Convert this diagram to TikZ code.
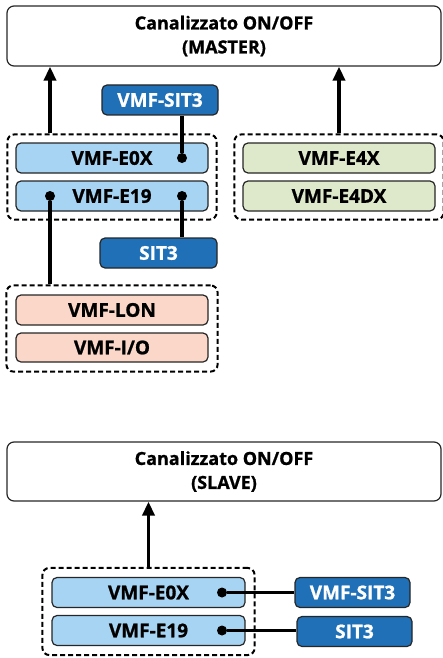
\documentclass[tikz,border=0pt]{standalone}
\usepackage{fontspec}
\setmainfont{Open Sans}[BoldFeatures={FakeBold=1}]
\usetikzlibrary{positioning,fit,arrows.meta}
\definecolor{lblue}{HTML}{A6D4F2}
\definecolor{dblue}{HTML}{1F70B6}
\definecolor{lgreen}{HTML}{DDE9CA}
\definecolor{lpink}{HTML}{FAD7C8}
\begin{document}
\begin{tikzpicture}[x=1pt, y=-1pt,
    box/.style = {draw=black!85, rounded corners=5pt, line width=1.2pt, inner sep=0pt,
        minimum height=30pt, font=\fontsize{19}{22}\selectfont\bfseries},
    main/.style = {box, minimum width=434pt, minimum height=60pt, align=center, rounded corners=7pt,
        font=\fontsize{18}{24}\selectfont\bfseries},
    card/.style = {box, minimum width=192pt},
    sit/.style = {box, fill=dblue, text=white},
    group/.style = {draw, dashed, dash pattern=on 5pt off 3pt, line width=2pt, rounded corners=7pt, inner sep=8pt},
    dot/.style = {circle, fill, inner sep=0pt, minimum size=10pt},
    conn/.style = {line width=3.5pt},
    arr/.style = {line width=3.5pt, -{Triangle[length=14pt, width=12pt]}}]
    \useasboundingbox (0,0) rectangle (443,658);
    % master part
    \node[main] (master) at (224,36) {Canalizzato ON/OFF\\(MASTER)};
    \node[sit, minimum width=116pt] (sitA) at (160,100) {VMF-SIT3};
    \node[card, fill=lblue] (e0x) at (112,158) {VMF-E0X};
    \node[card, fill=lblue] (e19) at (112,196) {VMF-E19};
    \node[card, fill=lgreen] (e4x) at (339,158) {VMF-E4X};
    \node[card, fill=lgreen] (e4dx) at (339,196) {VMF-E4DX};
    \node[sit, minimum width=117pt] (sitB) at (158.5,253) {SIT3};
    \node[card, fill=lpink] (lon) at (112,310) {VMF-LON};
    \node[card, fill=lpink, minimum height=29pt] (io) at (112,347.5) {VMF-I/O};
    \node[group, fit=(e0x)(e19)] (g1) {};
    \node[group, fit=(e4x)(e4dx)] (g2) {};
    \node[group, fit=(lon)(io), inner sep=9pt] (g3) {};
    \node[dot] (d1) at (182,158) {};
    \node[dot] (d2) at (182,196) {};
    \node[dot] (d3) at (50,196) {};
    \draw[arr] (g1.north -| d3) -- (master.south -| d3);
    \draw[arr] (g2.north) -- (master.south -| g2.north);
    \path[conn] (d1 |- sitA.south) edge (d1);
    \path[conn] (d2) edge (d2 |- sitB.north);
    \path[conn] (d3) edge (d3 |- g3.north);
    % slave part
    \node[main, minimum height=59pt] (slave) at (224,471.5) {Canalizzato ON/OFF\\(SLAVE)};
    \node[card, fill=lblue, minimum width=193pt] (e0xs) at (148.5,592.5) {VMF-E0X};
    \node[card, fill=lblue, minimum width=193pt] (e19s) at (148.5,630.5) {VMF-E19};
    \node[sit, minimum width=115pt] (sitC) at (352.5,592.5) {VMF-SIT3};
    \node[sit, minimum width=115pt] (sitD) at (354.5,631.5) {SIT3};
    \node[group, fit=(e0xs)(e19s), inner sep=9pt] (g4) {};
    \node[dot] (d4) at (222,592.5) {};
    \node[dot] (d5) at (222,630.5) {};
    \draw[arr] (g4.north) -- (slave.south -| g4.north);
    \path[conn] (d4) edge (d4 -| sitC.west);
    \path[conn] (d5) edge (d5 -| sitD.west);
\end{tikzpicture}
\end{document}
